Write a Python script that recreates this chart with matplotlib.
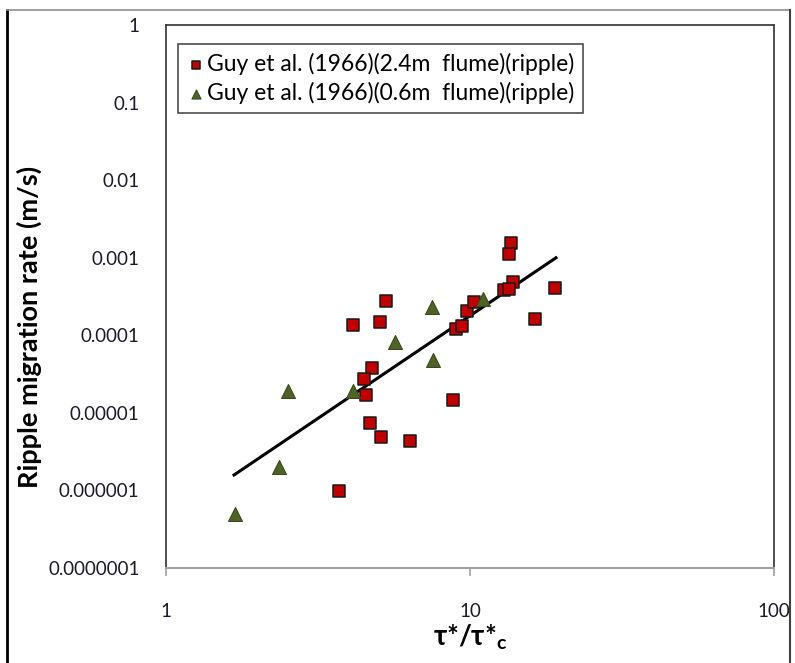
import numpy as np
import matplotlib
matplotlib.use("Agg")
import matplotlib.pyplot as plt
from matplotlib.lines import Line2D
from matplotlib.ticker import FixedLocator, FixedFormatter, NullLocator

plt.rcParams['font.family'] = ['Lato', 'DejaVu Sans']
plt.rcParams['mathtext.fontset'] = 'custom'
plt.rcParams['mathtext.bf'] = 'Lato:bold'
plt.rcParams['mathtext.rm'] = 'Lato'

# ---- data ----
series1_label = "Guy et al. (1966)(2.4m  flume)(ripple)"
series1_x = [5.29, 4.13, 5.07, 4.76, 4.47, 4.54, 4.70, 5.10, 6.35, 8.79, 8.99, 9.41,
             9.80, 10.31, 13.64, 13.47, 13.85, 12.94, 13.4, 19.08, 16.32, 3.71]
series1_y = [2.74e-4, 1.36e-4, 1.50e-4, 3.75e-5, 2.73e-5, 1.68e-5, 7.46e-6, 4.93e-6,
             4.30e-6, 1.45e-5, 1.21e-4, 1.33e-4, 2.06e-4, 2.69e-4, 1.53e-3, 1.11e-3,
             4.91e-4, 3.80e-4, 4.0e-4, 4.03e-4, 1.61e-4, 9.8e-7]

series2_label = "Guy et al. (1966)(0.6m  flume)(ripple)"
series2_x = [7.48, 5.67, 7.54, 4.13, 11.06, 2.51, 2.35, 1.69]
series2_y = [2.32e-4, 8.12e-5, 4.80e-5, 1.91e-5, 2.91e-4, 1.93e-5, 1.99e-6, 4.97e-7]

# power trend line: y = a * x^b
trend_a = 4.05e-7
trend_b = 2.644
trend_xrange = [1.674, 19.18]

x_ticks = [1, 10, 100]
x_ticklabels = ["1", "10", "100"]
y_ticks = [1e-7, 1e-6, 1e-5, 1e-4, 1e-3, 1e-2, 1e-1, 1]
y_ticklabels = ["0.0000001", "0.000001", "0.00001", "0.0001", "0.001", "0.01", "0.1", "1"]

# ---- figure ----
W, H = 795, 663
fig = plt.figure(figsize=(W / 100, H / 100), dpi=100)
ax = fig.add_axes([166 / W, 1 - 568 / H, (774 - 166) / W, (568 - 25) / H])

ax.set_xscale('log')
ax.set_yscale('log')
ax.set_xlim(1, 100)
ax.set_ylim(1e-7, 1)

tx = np.logspace(np.log10(trend_xrange[0]), np.log10(trend_xrange[1]), 100)
ax.plot(tx, trend_a * tx ** trend_b, color='black', lw=2.2, zorder=2)

ax.scatter(series1_x, series1_y, marker='s', s=70, facecolor='#C00000',
           edgecolor='#1a1a1a', linewidths=1.1, zorder=3, label=series1_label)
ax.scatter(series2_x, series2_y, marker='^', s=100, facecolor='#4F6228',
           edgecolor='#3a4a1e', linewidths=0.8, zorder=3, label=series2_label)

ax.xaxis.set_major_locator(FixedLocator(x_ticks))
ax.xaxis.set_major_formatter(FixedFormatter(x_ticklabels))
ax.xaxis.set_minor_locator(NullLocator())
ax.yaxis.set_major_locator(FixedLocator(y_ticks))
ax.yaxis.set_major_formatter(FixedFormatter(y_ticklabels))
ax.yaxis.set_minor_locator(NullLocator())

ax.tick_params(axis='x', direction='out', length=6, width=1.2, color='#a0a0a0',
               labelsize=13.5, pad=19, labelcolor='#1a1a2a')
ax.tick_params(axis='y', length=0, labelsize=13.5, pad=19, labelcolor='#1a1a2a')

for side in ['left', 'right', 'top']:
    ax.spines[side].set_color('#404040')
    ax.spines[side].set_linewidth(1.3)
ax.spines['bottom'].set_color('#a0a0a0')
ax.spines['bottom'].set_linewidth(1.5)

ax.set_ylabel("Ripple migration rate (m/s)", fontsize=19.5, fontweight='bold')
ax.yaxis.set_label_coords((42 - 166) / 608, 0.5 - (326 - 296) / 543)
ax.set_xlabel("τ*/τ*$_\\mathbf{c}$", fontsize=20, fontweight='bold', labelpad=2)

leg = ax.legend(loc='upper left', bbox_to_anchor=((178 - 166) / 608, 1 - (44 - 25) / 543),
                fontsize=16.5, frameon=True, fancybox=False, borderpad=0.4,
                handletextpad=0.1, handlelength=0.75, labelspacing=0.3,
                markerscale=0.65, borderaxespad=0)
leg.get_frame().set_edgecolor('#202020')
leg.get_frame().set_linewidth(1.2)

# outer chart border
fig.add_artist(Line2D([7 / W, 7 / W], [0, 1 - 10 / H], transform=fig.transFigure,
                      color='black', lw=2))
fig.add_artist(Line2D([7 / W, 790 / W], [1 - 10 / H, 1 - 10 / H], transform=fig.transFigure,
                      color='#909090', lw=1.2))
fig.add_artist(Line2D([790 / W, 790 / W], [0, 1 - 10 / H], transform=fig.transFigure,
                      color='#404040', lw=1.5))

fig.savefig("out.png", dpi=100)
